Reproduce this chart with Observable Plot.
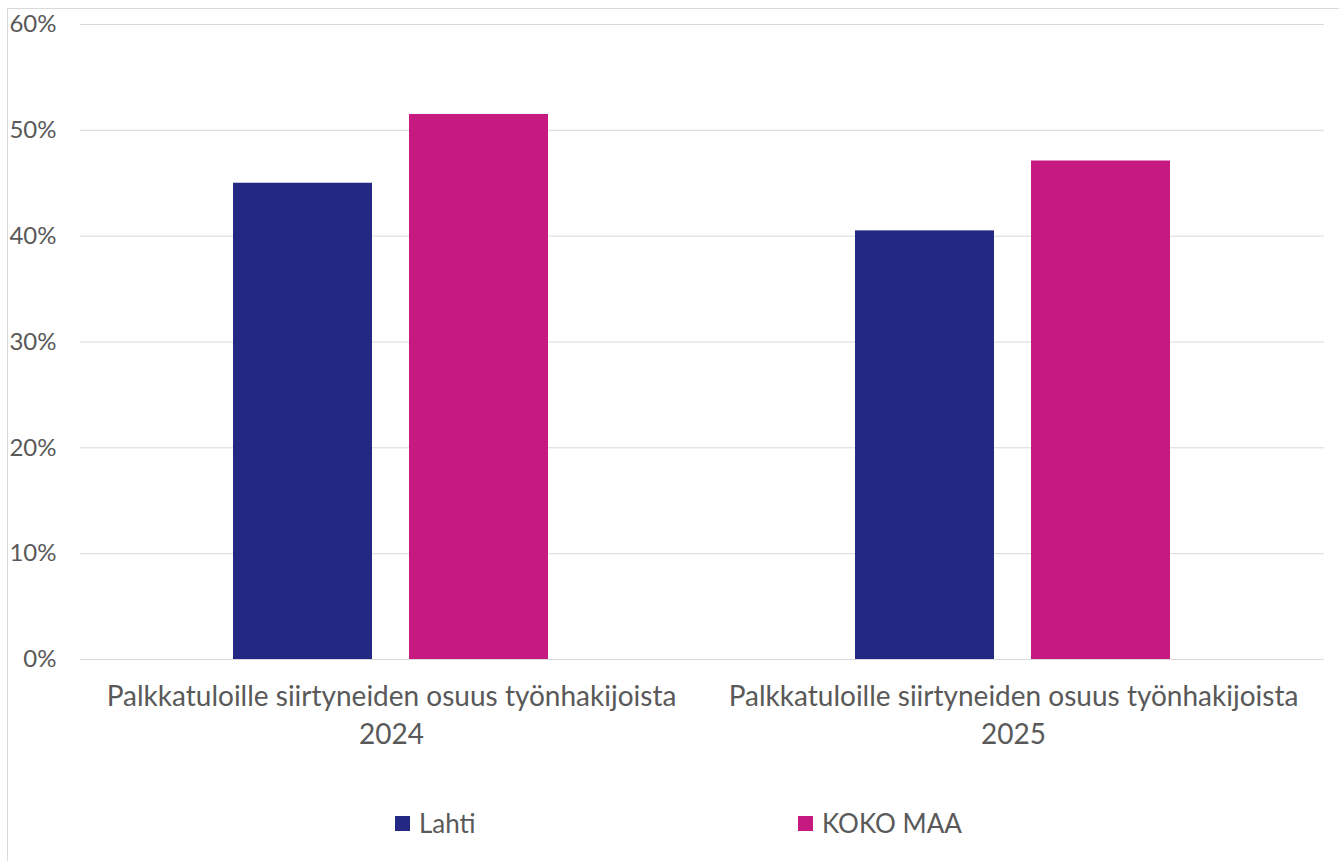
<!DOCTYPE html>
<html>
<head>
<meta charset="utf-8">
<script src="https://cdn.jsdelivr.net/npm/d3@7"></script>
<script src="https://cdn.jsdelivr.net/npm/@observablehq/plot@0.6"></script>
<style>
  body { margin: 0; background: #fff; font-family: Lato, "Open Sans", sans-serif; }
  #wrap { position: relative; width: 1339px; height: 861px; overflow: hidden; }
  #frame { position: absolute; left: 7px; top: 8px; width: 1400px; height: 900px;
           border-left: 1px solid #d9d9d9; border-top: 1px solid #d9d9d9; }
  #chart { position: absolute; left: 0; top: 0; }
  .leg { position: absolute; top: 808px; height: 30px; line-height: 30px; display: flex; align-items: center;
         font-size: 26px; color: #595959; }
  .sw { width: 15px; height: 15px; margin-right: 9px; }
</style>
</head>
<body>
<div id="wrap">
  <div id="frame"></div>
  <div id="chart"></div>
  <div id="legend"></div>
</div>
<script>
// ---- data ----
const groups = ["Palkkatuloille siirtyneiden osuus työnhakijoista 2024",
                "Palkkatuloille siirtyneiden osuus työnhakijoista 2025"];
const groupLines = [["Palkkatuloille siirtyneiden osuus työnhakijoista", "2024"],
                    ["Palkkatuloille siirtyneiden osuus työnhakijoista", "2025"]];
const series = ["Lahti", "KOKO MAA"];
const lahti = [45.0, 40.5];
const kokoMaa = [51.5, 47.1];
const colors = ["#232884", "#C71A80"];
const yTicks = [0, 10, 20, 30, 40, 50, 60];

const rows = [];
groups.forEach((g, i) => {
  rows.push({group: g, series: series[0], value: lahti[i]});
  rows.push({group: g, series: series[1], value: kokoMaa[i]});
});

const chart = Plot.plot({
  width: 1339,
  height: 770,
  marginLeft: 79,
  marginRight: 15,
  marginTop: 24,
  marginBottom: 111,
  style: {fontFamily: "Lato, 'Open Sans', sans-serif", fontSize: "24px", color: "#595959", background: "transparent"},
  fx: {domain: groups, padding: 0, label: null},
  x: {domain: series, paddingInner: 0.209, paddingOuter: 0.863, axis: null},
  y: {domain: [0, 60], label: null},
  color: {domain: series, range: colors},
  marks: [
    Plot.gridY(yTicks, {stroke: "#d9d9d9", strokeOpacity: 1, strokeWidth: 1}),
    Plot.axisY(yTicks, {tickSize: 0, tickPadding: 24, tickFormat: d => d + "%", label: null, fontSize: 24, fill: "#595959"}),
    Plot.axisFx({anchor: "bottom", tickSize: 0, tickPadding: 19, label: null, fontSize: 28, lineHeight: 1.36, fill: "#595959",
                 tickFormat: d => groupLines[groups.indexOf(d)].join("\n")}),
    Plot.barY(rows, {fx: "group", x: "series", y: "value", fill: "series"})
  ]
});
document.getElementById("chart").appendChild(chart);

// legend
const legendPos = [395, 798];
const legend = document.getElementById("legend");
series.forEach((s, i) => {
  const item = document.createElement("div");
  item.className = "leg";
  item.style.left = legendPos[i] + "px";
  item.innerHTML = `<div class="sw" style="background:${colors[i]}"></div><span>${s}</span>`;
  legend.appendChild(item);
});
</script>
</body>
</html>
